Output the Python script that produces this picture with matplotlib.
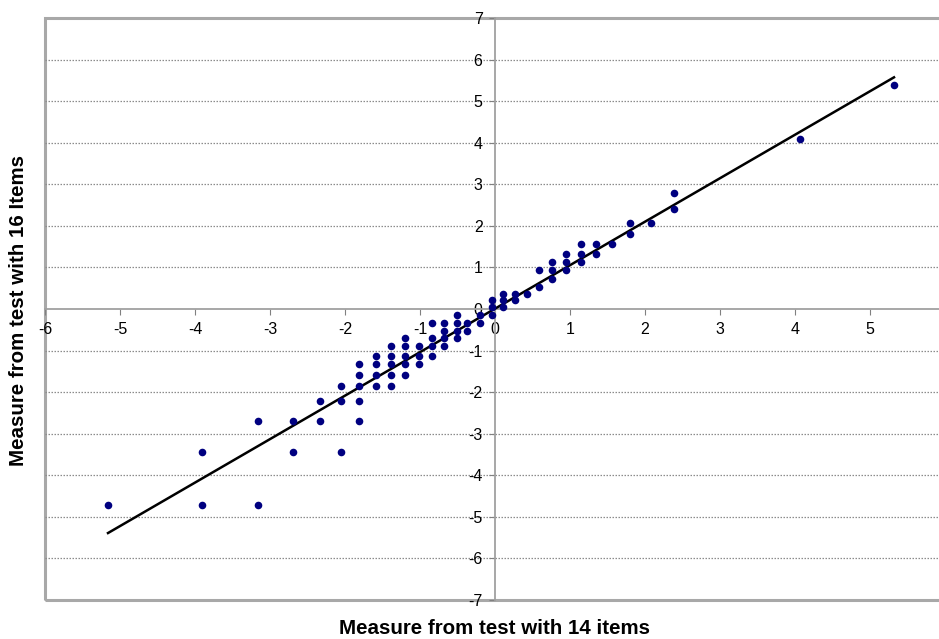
import matplotlib.pyplot as plt
from matplotlib.patches import Rectangle
import numpy as np

plt.rcParams['font.family'] = ['Liberation Sans', 'DejaVu Sans']

# measures from the 14 item test (x) and the 16 item test (y)
x14 = [-5.16,
       -3.91, -3.91,
       -3.16, -3.16,
       -2.70, -2.70,
       -2.34, -2.34,
       -2.05, -2.05, -2.05,
       -1.81, -1.81, -1.81, -1.81, -1.81,
       -1.59, -1.59, -1.59, -1.59,
       -1.39, -1.39, -1.39, -1.39, -1.39,
       -1.20, -1.20, -1.20, -1.20, -1.20,
       -1.02, -1.02, -1.02,
       -0.84, -0.84, -0.84, -0.84,
       -0.68, -0.68, -0.68, -0.68,
       -0.51, -0.51, -0.51, -0.51,
       -0.37, -0.37,
       -0.20, -0.20,
       -0.04, -0.04, -0.04,
       0.11, 0.11, 0.11,
       0.27, 0.27,
       0.42,
       0.59, 0.59,
       0.76, 0.76, 0.76,
       0.94, 0.94, 0.94,
       1.14, 1.14, 1.14,
       1.34, 1.34,
       1.56,
       1.80, 1.80,
       2.08,
       2.39, 2.39,
       4.06,
       5.32]
y16 = [-4.71,
       -3.44, -4.71,
       -2.69, -4.71,
       -2.69, -3.44,
       -2.22, -2.69,
       -1.86, -2.22, -3.44,
       -1.32, -1.58, -1.86, -2.22, -2.69,
       -1.12, -1.32, -1.58, -1.86,
       -0.90, -1.12, -1.32, -1.58, -1.86,
       -0.70, -0.90, -1.12, -1.32, -1.58,
       -0.90, -1.12, -1.32,
       -0.34, -0.70, -0.90, -1.12,
       -0.34, -0.52, -0.70, -0.90,
       -0.15, -0.34, -0.52, -0.70,
       -0.34, -0.52,
       -0.15, -0.34,
       0.21, 0.04, -0.15,
       0.37, 0.21, 0.04,
       0.37, 0.21,
       0.37,
       0.54, 0.93,
       0.72, 0.93, 1.12,
       0.93, 1.12, 1.33,
       1.12, 1.33, 1.56,
       1.33, 1.56,
       1.56,
       1.81, 2.08,
       2.08,
       2.40, 2.79,
       4.10,
       5.38]

# fitted line
slope, intercept = 1.046, 0.008
line_x = np.array([-5.16, 5.32])

xticks = list(range(-6, 6))
yticks = list(range(-7, 8))

fig = plt.figure(figsize=(9.39, 6.39), dpi=100)
ax = fig.add_axes([45 / 939, 39 / 639, 900 / 939, 582 / 639])
ax.set_xlim(-6, 6)
ax.set_ylim(-7, 7)

for yv in yticks:
    if yv not in (-7, 0, 7):
        ax.axhline(yv, color='#8c8c8c', lw=0.9, ls=(0, (1.2, 1.2)), zorder=1)

ax.plot(line_x, slope * line_x + intercept, color='black', lw=1.8, zorder=3)
ax.scatter(x14, y16, s=30, color='#000080', zorder=4, linewidths=0)

# axes crossing at zero
for side in ('top', 'right'):
    ax.spines[side].set_visible(False)
ax.spines['left'].set_position(('data', 0))
ax.spines['bottom'].set_position(('data', 0))
ax.spines['left'].set_color('#a0a0a0')
ax.spines['bottom'].set_color('#a0a0a0')
ax.spines['left'].set_linewidth(1.3)
ax.spines['bottom'].set_linewidth(1.3)
ax.add_patch(Rectangle((0, 0), 1, 1, transform=ax.transAxes, fill=False,
                       edgecolor='#a8a8a8', lw=2.2, clip_on=False, zorder=0))

ax.set_xticks(xticks)
ax.set_yticks(yticks)
ax.set_xticklabels([str(v) for v in xticks])
ax.set_yticklabels([str(v) for v in yticks])
ax.tick_params(axis='both', direction='out', length=4, color='#808080',
               labelsize=11.5, pad=5)

fig.text(495 / 939, 1 - 628 / 639, 'Measure from test with 14 items',
         ha='center', va='center', fontsize=14.8, fontweight='bold')
fig.text(19 / 939, 1 - 311 / 639, 'Measure from test with 16 Items',
         ha='center', va='center', rotation=90, fontsize=14.8, fontweight='bold')

fig.savefig('out.png', dpi=100)
